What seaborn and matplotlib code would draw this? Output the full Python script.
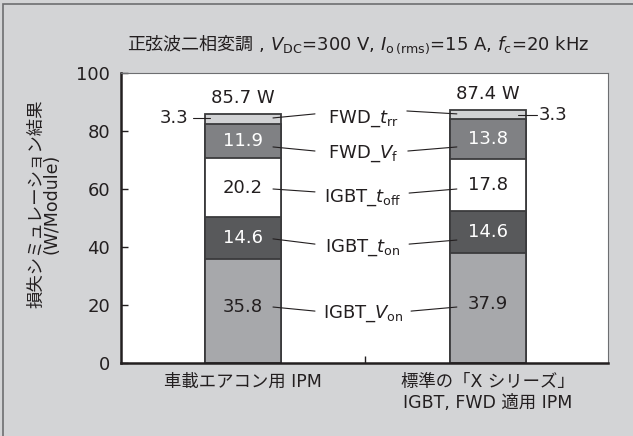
import matplotlib
matplotlib.use("Agg")
import matplotlib.pyplot as plt
import seaborn as sns
import pandas as pd
import numpy as np
from matplotlib.patches import Rectangle
from matplotlib.lines import Line2D

# ---- data ----
categories = ["車載エアコン用 IPM", "標準の「X シリーズ」\nIGBT, FWD 適用 IPM"]
components = ["IGBT_Von", "IGBT_ton", "IGBT_toff", "FWD_Vf", "FWD_trr"]
igbt_von = [35.8, 37.9]
igbt_ton = [14.6, 14.6]
igbt_toff = [20.2, 17.8]
fwd_vf = [11.9, 13.8]
fwd_trr = [3.3, 3.3]
totals = ["85.7 W", "87.4 W"]
component_labels = [r"IGBT_$V_{\rm on}$", r"IGBT_$t_{\rm on}$", r"IGBT_$t_{\rm off}$",
                    r"FWD_$V_{\rm f}$", r"FWD_$t_{\rm rr}$"]
title = r" , $V_{\rm DC}$=300 V, $I_{\rm o\,(rms)}$=15 A, $f_{\rm c}$=20 kHz"
title_cjk = "正弦波二相変調"
ylabel = "損失シミュレーション結果\n(W/Module)"
yticks = [0, 20, 40, 60, 80, 100]

colors = ["#a7a8ab", "#58595b", "#ffffff", "#808184", "#d1d2d4"]
text_colors = ["#231f20", "#ffffff", "#231f20", "#ffffff", "#231f20"]

sns.set_theme(style="white")
LAT = "DejaVu Sans"
plt.rcParams["font.family"] = [LAT, "Noto Sans CJK JP"]
plt.rcParams["mathtext.fontset"] = "dejavusans"

TXT = "#231f20"

fig = plt.figure(figsize=(6.33, 4.36), dpi=100)
fig.patch.set_facecolor("#d3d4d6")
fig.patches.append(Rectangle((3/633, -0.05), 1.05, 1.05 - 4/436, transform=fig.transFigure,
                             fill=False, edgecolor="#6d6e71", linewidth=1.2))
ax = fig.add_axes([121/633, (436-363)/436, 487/633, 290/436])
ax.set_facecolor("white")

series = [igbt_von, igbt_ton, igbt_toff, fwd_vf, fwd_trr]
cum = np.cumsum(np.array(series), axis=0)
# draw from the top layer down so lower segments overlay
for i in range(len(series) - 1, -1, -1):
    df = pd.DataFrame({"cat": ["A", "B"], "val": cum[i]})
    sns.barplot(data=df, x="cat", y="val", color=colors[i], saturation=1,
                width=0.31, edgecolor="#3b3b3d", linewidth=1.3, ax=ax)

# values inside bars
for j in range(2):
    for i in range(len(series)):
        if i == 4:
            continue
        bottom = cum[i][j] - series[i][j]
        yc = bottom + series[i][j] / 2
        if i == 0:
            yc += 1.5
        ax.text(j, yc, f"{series[i][j]:.1f}", ha="center", va="center",
                fontsize=13, color=text_colors[i])
    ax.text(j, cum[-1][j] + 5.5, totals[j], ha="center", va="center",
            fontsize=13, color=TXT)

# middle labels with leader lines
label_base = [15.5, 38.3, 55.5, 70.7, 82.8]
left_y = [(19.3, 17.9), (42.8, 41.0), (60.0, 59.0), (74.5, 73.1), (84.5, 85.9)]
right_y = [(17.9, 19.3), (41.0, 42.4), (58.6, 60.0), (73.1, 74.5), (86.9, 85.9)]
right_x0 = [0.686, 0.678, 0.678, 0.673, 0.669]
for i in range(5):
    ax.text(0.49, label_base[i], component_labels[i], ha="center", va="baseline",
            fontsize=13, color=TXT)
    ax.add_line(Line2D([0.1224, 0.2939], left_y[i], color=TXT, lw=0.8))
    ax.add_line(Line2D([right_x0[i], 0.873], right_y[i], color=TXT, lw=0.8))

# 3.3 labels outside
ax.add_line(Line2D([-0.204, -0.135], [84.5, 84.5], color=TXT, lw=0.8))
ax.text(-0.222, 84.5, f"{fwd_trr[0]:.1f}", ha="right", va="center", fontsize=13, color=TXT)
ax.add_line(Line2D([1.122, 1.2], [85.5, 85.5], color=TXT, lw=0.8))
ax.text(1.207, 85.5, f"{fwd_trr[1]:.1f}", ha="left", va="center", fontsize=13, color=TXT)

ax.set_xlim(-0.498, 1.49)
ax.set_ylim(0, 100)
ax.set_xlabel("")
ax.set_ylabel("")
ax.set_xticks([0, 1])
ax.set_xticklabels(categories, fontsize=12.5, color=TXT, linespacing=1.2)
ax.set_xticks([0.5], minor=True)
ax.tick_params(axis="x", which="major", length=0, pad=7)
ax.tick_params(axis="x", which="minor", direction="in", length=5, width=1, color=TXT, bottom=True)
ax.set_yticks(yticks)
ax.set_yticklabels([str(v) for v in yticks], fontsize=13, color=TXT)
ax.tick_params(axis="y", direction="in", length=5, width=1, color=TXT, left=True, pad=8)

for s in ["left", "bottom"]:
    ax.spines[s].set_color("#231f20")
    ax.spines[s].set_linewidth(1.8)
for s in ["top", "right"]:
    ax.spines[s].set_color("#6d6e71")
    ax.spines[s].set_linewidth(0.8)

fig.text(44/633, 1 - 204/436, ylabel, rotation=90, ha="center", va="center",
         fontsize=12.5, color=TXT, linespacing=0.78)

fig.text(253/633, 1 - 45/436, title_cjk, ha="right", va="center", fontsize=13, color=TXT)
fig.text(253/633, 1 - 45/436, title, ha="left", va="center", fontsize=13, color=TXT)

fig.savefig("out.png", dpi=100, facecolor=fig.get_facecolor())
